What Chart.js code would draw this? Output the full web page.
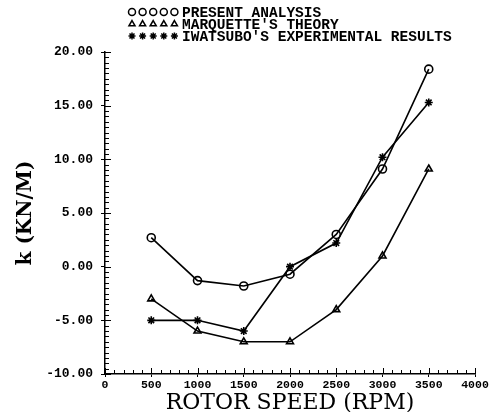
<!DOCTYPE html>
<html>
<head>
<meta charset="utf-8">
<script src="https://cdn.jsdelivr.net/npm/chart.js@4/dist/chart.umd.min.js"></script>
<style>
html, body { margin: 0; padding: 0; background: #fff; }
#wrap { width: 496px; height: 412px; position: relative; }
</style>
</head>
<body>
<div id="wrap"><canvas id="myChart"></canvas></div>
<script>
// rotor speed (RPM)
var speeds = [500, 1000, 1500, 2000, 2500, 3000, 3500];
// stiffness k (KN/M)
var present_analysis = [2.7, -1.3, -1.8, -0.7, 3.0, 9.1, 18.4];
var marquette_theory = [-3.0, -6.0, -7.0, -7.0, -4.0, 1.0, 9.1];
var iwatsubo_results = [-5.0, -5.0, -6.0, 0.0, 2.2, 10.2, 15.3];

var series_names = ["PRESENT ANALYSIS", "MARQUETTE'S THEORY", "IWATSUBO'S EXPERIMENTAL RESULTS"];
var series_styles = ['circle', 'triangle', 'star'];
var series_values = [present_analysis, marquette_theory, iwatsubo_results];

var x_title = 'ROTOR SPEED (RPM)';
var y_title = 'k (KN/M)';

function toPoints(vals) {
	var pts = [];
	for (var i = 0; i < speeds.length; i++) {
		pts.push({x: speeds[i], y: vals[i]});
	}
	return pts;
}

var datasets = [];
for (var s = 0; s < series_names.length; s++) {
	datasets.push({
		label: series_names[s],
		data: toPoints(series_values[s]),
		borderColor: '#000',
		backgroundColor: 'rgba(0,0,0,0)',
		borderWidth: 1.6,
		pointStyle: series_styles[s],
		pointRadius: 4,
		pointBorderWidth: 1.6,
		pointBorderColor: '#000',
		pointBackgroundColor: 'rgba(0,0,0,0)',
		tension: 0
	});
}

// minor ticks pointing into the plot, like the old plotter output
var minorTicks = {
	id: 'minorTicks',
	afterDraw: function(chart) {
		var ctx = chart.ctx, xs = chart.scales.x, ys = chart.scales.y;
		var area = chart.chartArea;
		ctx.save();
		ctx.strokeStyle = '#000';
		ctx.lineWidth = 1;
		ctx.beginPath();
		for (var v = ys.min; v <= ys.max + 0.001; v += 0.5) {
			var py = Math.round(ys.getPixelForValue(v)) + 0.5;
			var len = (Math.abs(v % 5) < 0.01) ? 6 : 4;
			ctx.moveTo(area.left, py);
			ctx.lineTo(area.left + len, py);
		}
		for (var u = xs.min; u <= xs.max + 0.001; u += 100) {
			var px = Math.round(xs.getPixelForValue(u)) + 0.5;
			var len2 = (u % 500 === 0) ? 6 : 4;
			ctx.moveTo(px, area.bottom);
			ctx.lineTo(px, area.bottom - len2);
		}
		ctx.stroke();
		ctx.restore();
	}
};

// legend drawn as in the reference: five markers then the name
var markerLegend = {
	id: 'markerLegend',
	afterDraw: function(chart) {
		var ctx = chart.ctx;
		var rows = [12, 24, 36];
		ctx.save();
		ctx.textBaseline = 'middle';
		ctx.textAlign = 'left';
		chart.data.datasets.forEach(function(ds, i) {
			var y = rows[i];
			ctx.strokeStyle = '#000';
			ctx.fillStyle = 'rgba(0,0,0,0)';
			ctx.lineWidth = 1.5;
			for (var k = 0; k < 5; k++) {
				Chart.helpers.drawPoint(ctx, {
					pointStyle: ds.pointStyle,
					radius: 3.5,
					borderWidth: 1.5,
					rotation: 0
				}, 132 + k * 10.6, y);
			}
			ctx.fillStyle = '#000';
			ctx.font = 'bold 14.5px "Liberation Mono", monospace';
			ctx.fillText(ds.label, 182, y + 1);
		});
		ctx.restore();
	}
};

var config = {
	type: 'line',
	data: { datasets: datasets },
	options: {
		responsive: true,
		maintainAspectRatio: false,
		animation: false,
		layout: { padding: { top: 52, right: 21, left: 0, bottom: 0 } },
		plugins: {
			legend: { display: false },
			tooltip: { enabled: false }
		},
		scales: {
			x: {
				type: 'linear',
				min: 0,
				max: 4000,
				afterFit: function(scale) { scale.height = 38; },
				border: { display: true, color: '#000', width: 1.5 },
				grid: { display: true, drawOnChartArea: false, color: '#000', tickLength: 3 },
				ticks: {
					stepSize: 500,
					padding: 1,
					color: '#000',
					maxRotation: 0,
					font: { family: '"Liberation Mono", monospace', weight: 'bold', size: 11.5 },
					callback: function(v) { return String(v); }
				},
				title: {
					display: true,
					text: x_title,
					color: '#000',
					padding: { top: 0, bottom: -2 },
					font: { family: '"DejaVu Serif", serif', size: 22, lineHeight: 1 }
				}
			},
			y: {
				min: -10,
				max: 20,
				afterFit: function(scale) { scale.width = 105; },
				border: { display: true, color: '#000', width: 1.5 },
				grid: { display: true, drawOnChartArea: false, color: '#000', tickLength: 4 },
				ticks: {
					stepSize: 5,
					padding: 8,
					color: '#000',
					font: { family: '"Liberation Mono", monospace', weight: 'bold', size: 13 },
					callback: function(v) { return v.toFixed(2); }
				},
				title: {
					display: true,
					text: y_title,
					color: '#000',
					padding: { top: 16, bottom: 0 },
					font: { family: '"DejaVu Serif", serif', weight: 'bold', size: 20, lineHeight: 1 }
				}
			}
		}
	},
	plugins: [minorTicks, markerLegend]
};

window.k_chart = new Chart(document.getElementById('myChart').getContext('2d'), config);
</script>
</body>
</html>
